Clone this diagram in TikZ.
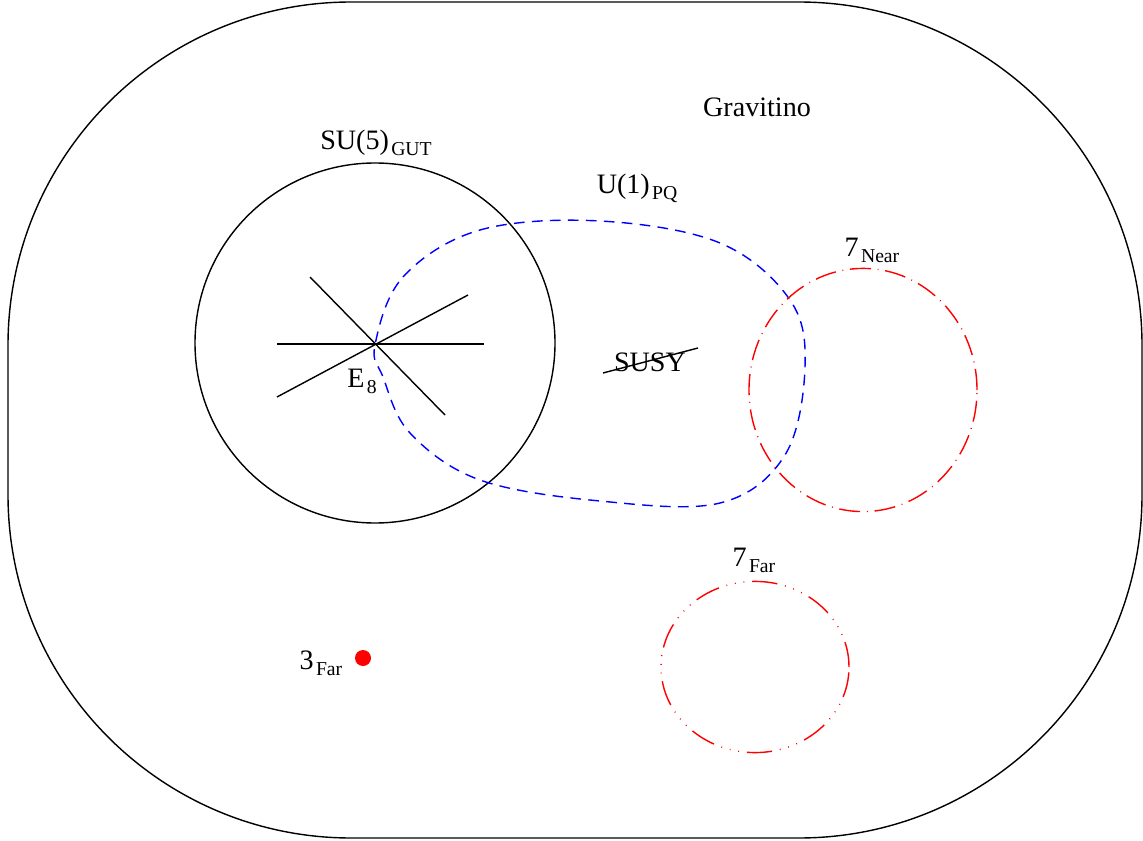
\documentclass[tikz,border=0pt]{standalone}
\usepackage{fontspec}
\setmainfont{Liberation Serif}
\usepackage{tikz}
\usetikzlibrary{calc}

\newcommand{\lowsub}[1]{\kern0.8pt\raisebox{-0.45ex}{\scriptsize #1}}

\begin{document}
\begin{tikzpicture}[
    scale=0.5,
    line width=0.5pt,
    pq curve/.style={
        blue,
        dash pattern=on 3.8pt off 2.6pt
    },
    near ring/.style={
        red,
        dash pattern=on 7.5pt off 2.4pt on 0.3pt off 2.4pt
    },
    far ring/.style={
        red,
        dash pattern=on 9pt off 2.8pt on 0.3pt off 2.8pt on 0.3pt off 2.8pt on 0.3pt off 2.8pt
    }
  ]

  \useasboundingbox (0,0) rectangle (28.575,21);

  % outer region
  \draw[rounded corners=4.29cm] (0.2,0.05) rectangle (28.55,20.95);
  \node (grav) at (18.925,18.325) {Gravitino};

  % SU(5) circle with the E8 star
  \coordinate (e8) at (9.375,12.4);
  \draw (9.375,12.425) circle (4.5);
  \node (su5) at (9.4,17.425) {SU(5)\lowsub{GUT}};

  \coordinate (h_a) at (6.925,12.4);
  \coordinate (h_b) at (12.1,12.4);
  \coordinate (d_a) at (7.75,14.075);
  \coordinate (d_b) at (11.125,10.625);
  \coordinate (s_a) at (6.925,11.075);
  \coordinate (s_b) at (11.7,13.625);

  \draw (h_a) -- (h_b);
  \draw (d_a) -- (d_b);
  \draw (s_a) -- (s_b);
  \node (e8lab) at (9.05,11.475) {E\lowsub{8}};

  % U(1) PQ loop
  \draw[pq curve] plot[smooth cycle, tension=0.6] coordinates {
      (9.375,12.375) (10.075,14.075) (12.0,15.25) (15.0,15.475)
      (18.0,14.925) (19.75,13.5) (20.125,11.825) (19.625,9.625)
      (18.0,8.425) (15.0,8.475) (12.0,9.0) (10.25,10.175) (9.575,11.575)
  };
  \node (pq) at (15.925,16.3) {U(1)\lowsub{PQ}};

  % broken SUSY
  \node (susy) at (16.25,11.95) {SUSY};
  \coordinate (cut_a) at (15.075,11.675);
  \coordinate (cut_b) at (17.45,12.3);
  \draw (cut_a) -- (cut_b);

  % 7 rings
  \draw[near ring] (21.575,11.25) ellipse (2.85 and 3.04);
  \node (near) at (21.8,14.75) {7\lowsub{Near}};

  \draw[far ring] (18.875,4.325) ellipse (2.35 and 2.14);
  \node (far) at (18.85,7.0) {7\lowsub{Far}};

  % 3 far
  \fill[red] (9.075,4.55) circle (0.2);
  \node (three) at (8.025,4.425) {3\lowsub{Far}};

\end{tikzpicture}
\end{document}
